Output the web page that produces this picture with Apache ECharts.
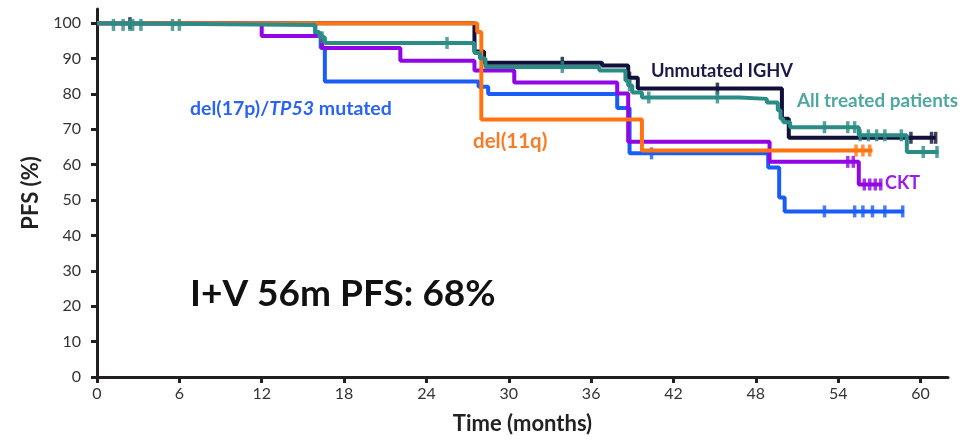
<!DOCTYPE html>
<html>
<head>
<meta charset="utf-8">
<script src="https://cdn.jsdelivr.net/npm/echarts@6/dist/echarts.min.js"></script>
<style>
html,body{margin:0;padding:0;background:#fff;}
#chart{width:979px;height:440px;}
</style>
</head>
<body>
<div id="chart"></div>
<script>
// Tick values
const xTicks = [0, 6, 12, 18, 24, 30, 36, 42, 48, 54, 60];
const yTicks = [0, 10, 20, 30, 40, 50, 60, 70, 80, 90, 100];

// Step curves: event times (months) and survival (%)
const blueT = [0, 15.9, 16.3, 16.6, 27.8, 28.5, 37.9, 38.8, 48.9, 49.7, 50.1, 58.8];
const blueS = [100, 97, 93, 83.5, 82, 80, 76, 63.2, 59.2, 50.7, 46.8, 46.8];
const blueC = [40.4, 53.0, 55.2, 55.8, 56.5, 57.4, 58.7];

const orangeT = [0, 27.7, 28.0, 39.7, 56.5];
const orangeS = [100, 97.5, 72.8, 64, 64];
const orangeC = [55.3, 55.8, 56.3];

const purpleT = [0, 12.0, 16.4, 22.1, 27.5, 30.4, 37.9, 38.7, 49.0, 55.5, 57.2];
const purpleS = [100, 96.4, 93, 89.4, 86.6, 83.2, 80.1, 66.5, 60.8, 54.4, 54.4];
const purpleC = [54.7, 55.1, 55.9, 56.3, 56.7, 57.1];

const navyT = [0, 27.5, 28.2, 36.8, 38.7, 39.4, 49.9, 50.4, 61.1];
const navyS = [100, 92, 88.8, 88, 84.6, 81.5, 73, 67.6, 67.6];
const navyC = [2.4, 33.9, 38.8, 45.2, 59.3, 60.8, 61.1];

const tealT = [0, 0.9, 15.9, 16.2, 16.6, 27.5, 27.9, 28.3, 36.6, 38.5, 38.7, 39.0, 39.7, 46.8, 48.8, 49.6, 49.8, 50.0, 50.5, 55.5, 59.0, 61.3];
const tealS = [100, 99.5, 97.5, 96, 94.4, 91.6, 90, 87.6, 86.6, 83.8, 82.4, 80.4, 79, 78.6, 77.6, 75.4, 73, 72, 70.6, 68.3, 63.6, 63.6];
const tealC = [1.2, 1.9, 2.4, 2.6, 3.2, 5.5, 6.0, 16.4, 25.5, 33.9, 38.8, 40.2, 45.2, 53.0, 54.7, 55.2, 55.6, 56.2, 56.8, 57.4, 58.6, 60.2, 61.2];

function pts(T, S) { return T.map((t, i) => [t, S[i]]); }
function level(T, S, t) {
  let v = S[0];
  for (let i = 0; i < T.length; i++) { if (T[i] <= t) v = S[i]; }
  return v;
}
function cens(T, S, C) { return C.map(t => [t, level(T, S, t)]); }

const groups = [
  {name: 'Unmutated IGHV', T: navyT, S: navyS, C: navyC, color: '#10103a'},
  {name: 'del(17p)/TP53 mutated', T: blueT, S: blueS, C: blueC, color: '#1a5cf8'},
  {name: 'CKT', T: purpleT, S: purpleS, C: purpleC, color: '#9205e6'},
  {name: 'del(11q)', T: orangeT, S: orangeS, C: orangeC, color: '#ff7410'},
  {name: 'All treated patients', T: tealT, S: tealS, C: tealC, color: '#2a8c85'}
];

const series = [];
groups.forEach((g, k) => {
  series.push({
    type: 'line', name: g.name, step: 'end', data: pts(g.T, g.S),
    showSymbol: false, symbol: 'none', z: 2 + k,
    lineStyle: {color: g.color, width: 4}, silent: true, animation: false
  });
  series.push({
    type: 'scatter', name: g.name + ' censored', data: cens(g.T, g.S, g.C),
    symbol: 'rect', symbolSize: [3.5, 12], z: 2 + k,
    itemStyle: {color: g.color}, silent: true, animation: false
  });
});

const FONT = 'Lato';
const chart = echarts.init(document.getElementById('chart'), null, {renderer: 'canvas'});
chart.setOption({
  animation: false,
  backgroundColor: '#ffffff',
  grid: {left: 97, right: 31, top: 9, bottom: 61, containLabel: false},
  xAxis: {
    type: 'value', min: 0, max: 62,
    name: 'Time (months)', nameLocation: 'middle', nameGap: 36,
    nameTextStyle: {fontFamily: FONT, fontWeight: 'bold', fontSize: 22, color: '#222'},
    axisLine: {show: true, onZero: false, lineStyle: {color: '#231f20', width: 3}},
    axisTick: {show: true, customValues: xTicks, length: 6, lineStyle: {color: '#231f20', width: 3}},
    axisLabel: {customValues: xTicks, margin: 9, fontFamily: FONT, fontSize: 16, color: '#333'},
    splitLine: {show: false}
  },
  yAxis: {
    type: 'value', min: 0, max: 104,
    name: 'PFS (%)', nameLocation: 'middle', nameGap: 49,
    nameTextStyle: {fontFamily: FONT, fontWeight: 'bold', fontSize: 22, color: '#222'},
    axisLine: {show: true, onZero: false, lineStyle: {color: '#231f20', width: 3}},
    axisTick: {show: true, customValues: yTicks, length: 6, lineStyle: {color: '#231f20', width: 3}},
    axisLabel: {customValues: yTicks, margin: 16, fontFamily: FONT, fontSize: 16, color: '#333'},
    splitLine: {show: false}
  },
  graphic: [
    {type: 'text', left: 190, top: 99, z: 100, style: {
      text: 'del(17p)/{i|TP53} mutated', fontFamily: FONT, fontWeight: 'bold', fontSize: 19.5, fill: '#2a64f5',
      rich: {i: {fontStyle: 'italic', fontWeight: 'bold', fontFamily: FONT, fontSize: 19.5, fill: '#2a64f5'}}}},
    {type: 'text', left: 473, top: 131, z: 100, style: {text: 'del(11q)', fontFamily: FONT, fontWeight: 'bold', fontSize: 20.5, fill: '#f77c28'}},
    {type: 'text', left: 651, top: 62, z: 100, style: {text: 'Unmutated IGHV', fontFamily: FONT, fontWeight: 'bold', fontSize: 18.3, fill: '#1a1a48'}},
    {type: 'text', left: 797, top: 91, z: 100, style: {text: 'All treated patients', fontFamily: FONT, fontWeight: 'bold', fontSize: 18.9, fill: '#4ea8a0'}},
    {type: 'text', left: 885, top: 174, z: 100, style: {text: 'CKT', fontFamily: FONT, fontWeight: 'bold', fontSize: 18, fill: '#9a1ee8'}},
    {type: 'text', left: 190, top: 276, z: 100, style: {text: 'I+V 56m PFS: 68%', fontFamily: FONT, fontWeight: 'bold', fontSize: 37, fill: '#111'}}
  ],
  series: series
});
</script>
</body>
</html>
